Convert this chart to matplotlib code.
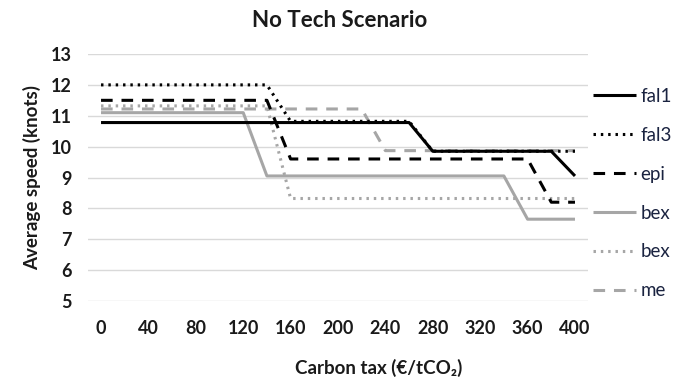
import matplotlib
matplotlib.use("Agg")
import matplotlib.pyplot as plt

plt.rcParams['font.family'] = ['Lato', 'DejaVu Sans']

carbon_tax = [0, 20, 40, 60, 80, 100, 120, 140, 160, 180, 200, 220, 240, 260, 280, 300, 320, 340, 360, 380, 400]
tick_labels = [0, 40, 80, 120, 160, 200, 240, 280, 320, 360, 400]

fal1 = [10.78, 10.78, 10.78, 10.78, 10.78, 10.78, 10.78, 10.78, 10.78, 10.78, 10.78, 10.78, 10.78, 10.78,
        9.85, 9.85, 9.85, 9.85, 9.85, 9.85, 9.05]
fal3 = [12.0, 12.0, 12.0, 12.0, 12.0, 12.0, 12.0, 12.0, 10.82, 10.82, 10.82, 10.82, 10.82, 10.82,
        9.85, 9.85, 9.85, 9.85, 9.85, 9.85, 9.85]
epi = [11.5, 11.5, 11.5, 11.5, 11.5, 11.5, 11.5, 11.5, 9.6, 9.6, 9.6, 9.6, 9.6, 9.6,
       9.6, 9.6, 9.6, 9.6, 9.6, 8.2, 8.2]
bex1 = [11.1, 11.1, 11.1, 11.1, 11.1, 11.1, 11.1, 9.05, 9.05, 9.05, 9.05, 9.05, 9.05, 9.05,
        9.05, 9.05, 9.05, 9.05, 7.65, 7.65, 7.65]
bex2 = [11.32, 11.32, 11.32, 11.32, 11.32, 11.32, 11.32, 11.32, 8.32, 8.32, 8.32, 8.32, 8.32, 8.32,
        8.32, 8.32, 8.32, 8.32, 8.32, 8.32, 8.32]
meth = [11.22, 11.22, 11.22, 11.22, 11.22, 11.22, 11.22, 11.22, 11.22, 11.22, 11.22, 11.22, 9.87, 9.87,
        9.87, 9.87, 9.87, 9.87, 9.87, 9.87, 9.87]

# legend labels as visible in the reference (cut at the image edge there)
series_names = ["fal1", "fal3", "epi", "bex", "bex", "me"]

fig = plt.figure(figsize=(6.79, 3.78), dpi=100)
ax = fig.add_axes([0.1296, 0.2037, 0.7364, 0.6534])

black = "#000000"
gray = "#a6a6a6"
lw = 2.2
dot = (0, (0.8, 1.6))
dash = (0, (3.8, 2.9))
styles = [
    (fal1, black, "-"),
    (fal3, black, dot),
    (epi, black, dash),
    (bex1, gray, "-"),
    (bex2, gray, dot),
    (meth, gray, dash),
]
order_z = [6, 5, 4, 2, 1, 3]
handles = []
for (vals, col, ls), name, z in zip(styles, series_names, order_z):
    h, = ax.plot(carbon_tax, vals, color=col, linestyle=ls, linewidth=lw,
                 label=name, zorder=z, solid_capstyle='butt', dash_capstyle='butt')
    handles.append(h)

ax.set_xlim(-11, 411)
ax.set_ylim(5, 13)
ax.set_yticks(range(5, 14))
ax.set_xticks(tick_labels)
ax.set_xticklabels([str(t) for t in tick_labels])
ax.grid(axis='y', color='#d9d9d9', linewidth=1.0, zorder=0)
ax.set_axisbelow(True)
for s in ax.spines.values():
    s.set_visible(False)
ax.tick_params(axis='both', length=0, labelsize=13, colors='#1a1a1a')
ax.tick_params(axis='x', pad=14)
ax.tick_params(axis='y', pad=12)
for lab in ax.get_xticklabels() + ax.get_yticklabels():
    lab.set_fontweight('bold')

fig.text(0.5, 0.945, "No Tech Scenario", fontsize=16, fontweight='bold',
         ha='center', va='center', color='#1a1a1a')
ax.set_ylabel("Average speed (knots)", fontsize=13.5, fontweight='bold', labelpad=7, color='#1a1a1a')
fig.text(0.558, 0.027, "Carbon tax (€/tCO₂)", fontsize=13.5, fontweight='bold',
         ha='center', va='center', color='#1a1a1a')

fig.legend(handles=handles, labels=series_names, loc='center left',
           bbox_to_anchor=(0.873, 0.488), frameon=False, fontsize=13.5,
           handlelength=2.3, handletextpad=0.25, labelspacing=1.17,
           borderpad=0, borderaxespad=0, labelcolor='#1a2340')

fig.savefig("out.png", dpi=100)
